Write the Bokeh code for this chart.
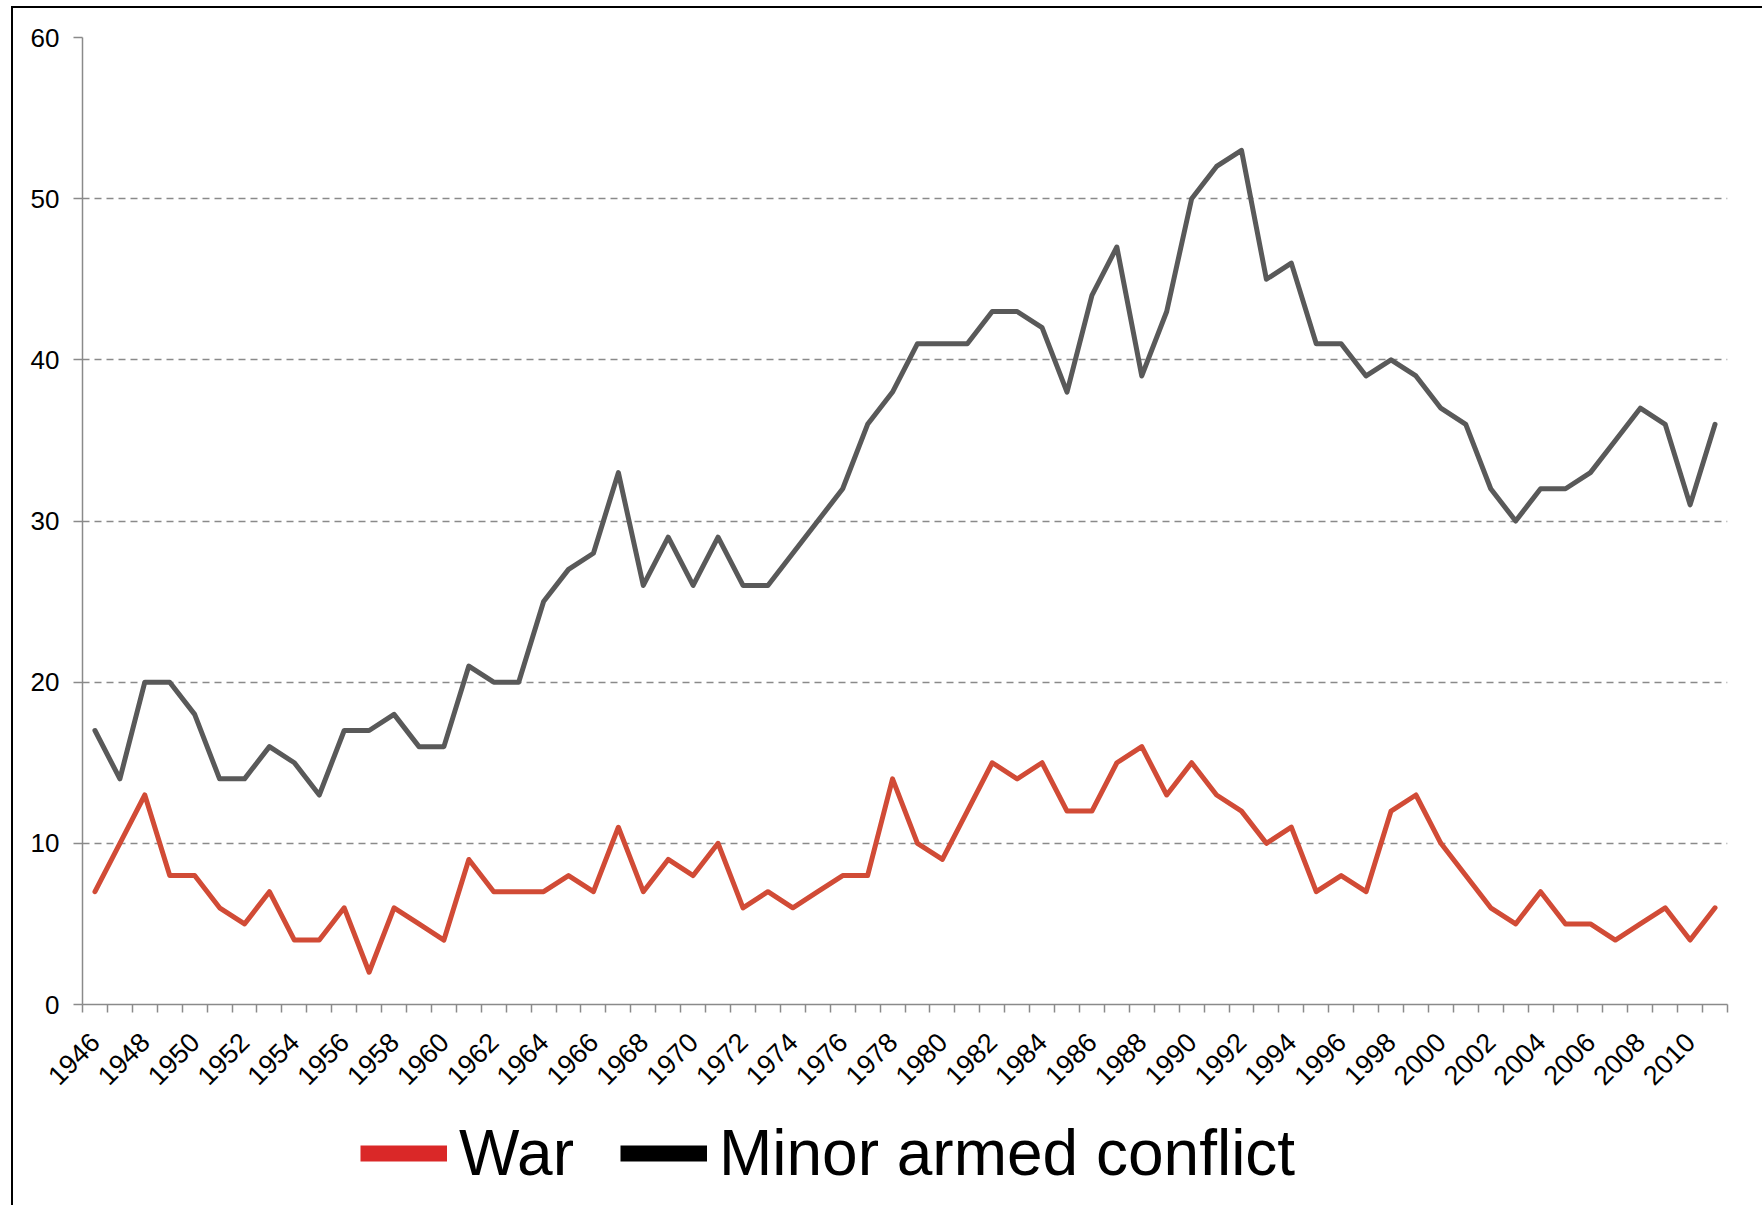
import math
from bokeh.plotting import figure
from bokeh.layouts import column
from bokeh.models import (Range1d, FixedTicker, Legend, LegendItem, ColumnDataSource)
from bokeh.embed import file_html
from bokeh.resources import INLINE

years = [1946, 1947, 1948, 1949, 1950, 1951, 1952, 1953, 1954, 1955,
         1956, 1957, 1958, 1959, 1960, 1961, 1962, 1963, 1964, 1965,
         1966, 1967, 1968, 1969, 1970, 1971, 1972, 1973, 1974, 1975,
         1976, 1977, 1978, 1979, 1980, 1981, 1982, 1983, 1984, 1985,
         1986, 1987, 1988, 1989, 1990, 1991, 1992, 1993, 1994, 1995,
         1996, 1997, 1998, 1999, 2000, 2001, 2002, 2003, 2004, 2005,
         2006, 2007, 2008, 2009, 2010, 2011]

war = [7, 10, 13, 8, 8, 6, 5, 7, 4, 4,
       6, 2, 6, 5, 4, 9, 7, 7, 7, 8,
       7, 11, 7, 9, 8, 10, 6, 7, 6, 7,
       8, 8, 14, 10, 9, 12, 15, 14, 15, 12,
       12, 15, 16, 13, 15, 13, 12, 10, 11, 7,
       8, 7, 12, 13, 10, 8, 6, 5, 7, 5,
       5, 4, 5, 6, 4, 6]

minor = [17, 14, 20, 20, 18, 14, 14, 16, 15, 13,
         17, 17, 18, 16, 16, 21, 20, 20, 25, 27,
         28, 33, 26, 29, 26, 29, 26, 26, 28, 30,
         32, 36, 38, 41, 41, 41, 43, 43, 42, 38,
         44, 47, 39, 43, 50, 52, 53, 45, 46, 41,
         41, 39, 40, 39, 37, 36, 32, 30, 32, 32,
         33, 35, 37, 36, 31, 36]

tick_years = [1946, 1948, 1950, 1952, 1954, 1956, 1958, 1960, 1962, 1964,
              1966, 1968, 1970, 1972, 1974, 1976, 1978, 1980, 1982, 1984,
              1986, 1988, 1990, 1992, 1994, 1996, 1998, 2000, 2002, 2004,
              2006, 2008, 2010]
tick_labels = [str(y) for y in tick_years]
y_ticks = [0, 10, 20, 30, 40, 50, 60]
series_names = ["War", "Minor armed conflict"]
series_colors = ["#d14b36", "#595959"]
legend_colors = ["#da2828", "#000000"]

FONT = "Liberation Sans"
AXIS_GRAY = "#8a8a8a"
W = 1749

src = ColumnDataSource(data=dict(year=years, war=war, minor=minor))

p = figure(frame_width=1645, frame_height=967,
           output_backend="svg", toolbar_location=None,
           x_range=Range1d(years[0] - 0.5, years[-1] + 0.5),
           y_range=Range1d(0, 60),
           min_border_left=69, min_border_right=35, min_border_top=29,
           min_border_bottom=95)
p.outline_line_color = None
p.background_fill_color = "white"
p.border_fill_color = "white"

# grid
p.xgrid.grid_line_color = None
p.ygrid.ticker = FixedTicker(ticks=y_ticks[1:])
p.ygrid.grid_line_color = AXIS_GRAY
p.ygrid.grid_line_width = 1.5
p.ygrid.grid_line_dash = "7 5"

# lines
p.line("year", "minor", source=src, line_color=series_colors[1], line_width=5,
       line_join="round", line_cap="round")
p.line("year", "war", source=src, line_color=series_colors[0], line_width=5,
       line_join="round", line_cap="round")

# x axis
xa = p.xaxis[0]
boundaries = [y - 0.5 for y in years] + [years[-1] + 0.5]
xa.ticker = FixedTicker(ticks=tick_years, minor_ticks=boundaries)
xa.major_label_overrides = {y: lab for y, lab in zip(tick_years, tick_labels)}
xa.major_tick_out = 0
xa.major_tick_in = 0
xa.minor_tick_out = 8
xa.minor_tick_in = 0
xa.minor_tick_line_color = AXIS_GRAY
xa.minor_tick_line_width = 1.5
xa.axis_line_color = AXIS_GRAY
xa.axis_line_width = 1.5
xa.major_label_orientation = math.pi / 4
xa.major_label_text_font = FONT
xa.major_label_text_font_size = "27px"
xa.major_label_text_color = "black"
xa.major_label_standoff = 25

# y axis
ya = p.yaxis[0]
ya.ticker = FixedTicker(ticks=y_ticks)
ya.major_tick_out = 9
ya.major_tick_in = 0
ya.minor_tick_out = 0
ya.minor_tick_in = 0
ya.major_tick_line_color = AXIS_GRAY
ya.major_tick_line_width = 1.5
ya.axis_line_color = AXIS_GRAY
ya.axis_line_width = 1.5
ya.major_label_text_font = FONT
ya.major_label_text_font_size = "26px"
ya.major_label_text_color = "black"
ya.major_label_standoff = 14

# legend strip below the chart (its frame is aligned with the chart's frame)
nan = float("nan")
p2 = figure(width=W, height=106, output_backend="svg", toolbar_location=None,
            x_range=Range1d(0, 1), y_range=Range1d(0, 1),
            min_border=0, min_border_left=0, min_border_right=0,
            min_border_top=0, min_border_bottom=0)
p2.outline_line_color = None
p2.axis.visible = False
p2.grid.visible = False
items = []
for name, col in zip(series_names, legend_colors):
    r = p2.line([nan, nan], [nan, nan], line_color=col, line_width=16)
    items.append(LegendItem(label=name, renderers=[r]))
legend = Legend(items=items, orientation="horizontal", location=(278, 15),
                label_text_font=FONT, label_text_font_size="64px",
                label_text_color="black",
                glyph_width=87, glyph_height=60, label_standoff=12,
                spacing=46, padding=0, margin=0,
                border_line_color=None, background_fill_alpha=0)
p2.add_layout(legend, "center")

layout = column(p, p2, spacing=0)
layout.styles = {"border-left": "2px solid black", "border-top": "2px solid black",
                 "margin-left": "11px", "margin-top": "6px"}

open("out.html", "w").write(file_html(layout, INLINE))
